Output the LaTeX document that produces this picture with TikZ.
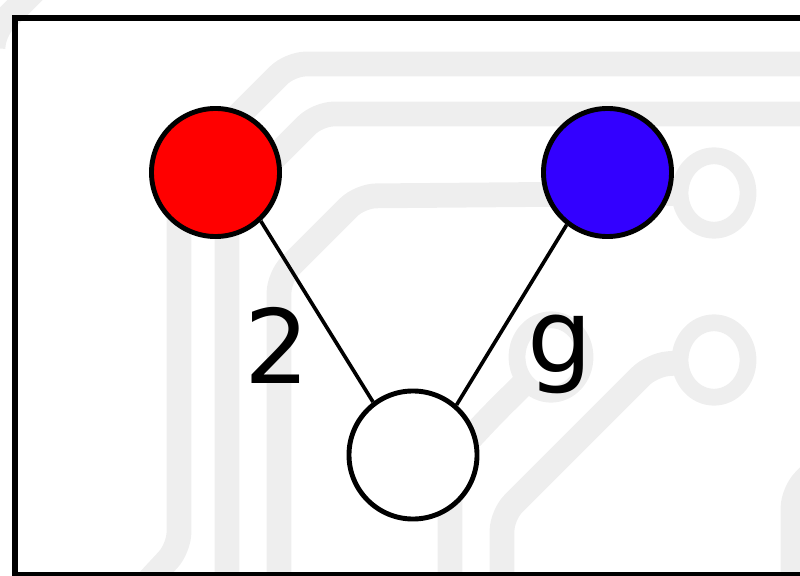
\documentclass[tikz,border=0pt]{standalone}
\usepackage{fontspec}
\setmainfont{DejaVu Sans}
\usetikzlibrary{positioning}
\definecolor{tracegray}{HTML}{EEEEEE}
\definecolor{nodeblue}{HTML}{3300FF}
\tikzset{
  vertex/.style={circle,draw=black,line width=3.5pt,minimum size=3.2cm,inner sep=0pt},
  trace/.style={draw=tracegray,line width=0.62cm,rounded corners=0.4cm},
  pad/.style={draw=tracegray,fill=white,line width=0.42cm},
  weight/.style={inner sep=0pt,anchor=base,font=\fontsize{73}{73}\selectfont},
  link/.style={line width=2.6pt}
}

\begin{document}
\begin{tikzpicture}[x=0.025cm,y=-0.025cm]
      \useasboundingbox (0,0) rectangle (800,576);
      \clip (0,0) rectangle (800,576);

      % faint board traces in the back
      \draw[trace] (40,-15) -- (-7,32) -- (-7,45);
      \draw[trace] (140,590) -- (179,548) -- (179,175) -- (290,64) -- (830,64);
      \draw[trace] (227,590) -- (227,205) -- (318,114) -- (830,114);
      \draw[trace] (279,590) -- (279,277) -- (360,196) -- (714,193);
      \draw[trace] (450,590) -- (450,460) -- (495,412) -- (551,357);
      \draw[trace] (502,590) -- (502,515) -- (652,365) -- (714,360);
      \draw[trace] (830,455) -- (793,492) -- (793,590);
      \draw[pad] (714,193) ellipse [x radius=0.85cm, y radius=0.93cm];
      \draw[pad] (714,360) ellipse [x radius=0.85cm, y radius=0.93cm];
      \draw[pad] (551,357) ellipse [x radius=0.85cm, y radius=0.93cm];

      % frame
      \draw[line width=0.15cm] (15,18) rectangle (830,575);

      \node[vertex,fill=red] (red) at (215.5,172.5) {};
      \node[vertex,fill=nodeblue] (blue) at (607.5,172.5) {};
      \node[vertex,fill=white] (bottom) at (413,455) {};

      \draw[link] (red.-47) -- (bottom.127);
      \draw[link] (blue.-128) -- (bottom.49);

      \node[weight] (two) at (277,383) {2};
      \node[weight] (gee) at (560,372) {g};
    \end{tikzpicture}
\end{document}
